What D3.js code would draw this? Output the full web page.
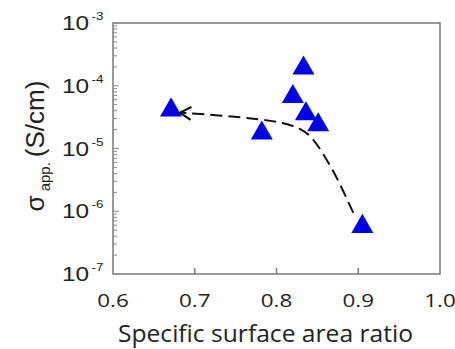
<!DOCTYPE html>
<html>
<head>
<meta charset="utf-8">
<script src="https://cdn.jsdelivr.net/npm/d3@7"></script>
<style>
  body { margin: 0; background: #fff; }
  svg { display: block; }
</style>
</head>
<body>
<div id="chart"></div>
<script>
// measured points
var ratio = [0.671, 0.782, 0.820, 0.833, 0.836, 0.851, 0.905];
var sigma = [4.1e-5, 1.75e-5, 6.7e-5, 1.9e-4, 3.56e-5, 2.38e-5, 5.7e-7];

// guide curve (dashed, arrow to the left)
var trendX = [0.894, 0.882, 0.870, 0.8555, 0.843, 0.829, 0.8085, 0.780, 0.739, 0.682];
var trendY = [9.4e-7, 2.06e-6, 4.29e-6, 8.93e-6, 1.55e-5, 2.1e-5, 2.59e-5, 2.92e-5, 3.31e-5, 3.73e-5];

var xTicks = [0.6, 0.7, 0.8, 0.9, 1.0];
var yExps = [-3, -4, -5, -6, -7];

var W = 455, H = 349;
var margin = {top: 23, right: 15, bottom: 75, left: 113},
    width = W - margin.left - margin.right,
    height = H - margin.top - margin.bottom;

var svg = d3.select("#chart").append("svg")
    .attr("width", W)
    .attr("height", H);

svg.append("defs").append("marker")
    .attr("id", "arrow")
    .attr("viewBox", "-14 -8 16 16")
    .attr("markerWidth", 16)
    .attr("markerHeight", 16)
    .attr("markerUnits", "userSpaceOnUse")
    .attr("refX", 0)
    .attr("refY", 0)
    .attr("orient", "auto")
    .append("path")
    .attr("d", "M-11,-6.5 L0,0 L-11,6.5")
    .attr("fill", "none")
    .attr("stroke", "#111")
    .attr("stroke-width", 2.2);

var g = svg.append("g")
    .attr("transform", "translate(" + margin.left + "," + margin.top + ")");

var x = d3.scaleLinear().domain([0.6, 1.0]).range([0, width]);
var y = d3.scaleLog().domain([1e-7, 1e-3]).range([height, 0]);

// frame
g.append("rect")
    .attr("width", width)
    .attr("height", height)
    .attr("fill", "none")
    .attr("stroke", "#7a7a7a")
    .attr("stroke-width", 1.5);

// y minor/major ticks (inside, on the left spine)
var yTickVals = [];
for (var e = -7; e < -3; e++) {
  for (var m = 1; m < 10; m++) yTickVals.push(m * Math.pow(10, e));
}
yTickVals.push(1e-3);
g.append("g").selectAll("line")
    .data(yTickVals)
    .enter().append("line")
    .attr("x1", 0)
    .attr("x2", function(d) { return Math.abs(Math.log10(d) - Math.round(Math.log10(d))) < 1e-9 ? 6 : 4; })
    .attr("y1", function(d) { return y(d); })
    .attr("y2", function(d) { return y(d); })
    .attr("stroke", "#8a8a8a")
    .attr("stroke-width", 1);

// x ticks (inside, bottom)
g.append("g").selectAll("line")
    .data(xTicks.slice(1, -1))
    .enter().append("line")
    .attr("x1", function(d) { return x(d); })
    .attr("x2", function(d) { return x(d); })
    .attr("y1", height)
    .attr("y2", height - 6)
    .attr("stroke", "#7a7a7a")
    .attr("stroke-width", 1.5);

// y tick labels: 10 with superscript exponent (text is a bit wide in the source)
var yl = g.append("g").selectAll("g")
    .data(yExps)
    .enter().append("g")
    .attr("transform", function(d) { return "translate(-51," + (y(Math.pow(10, d)) + 7) + ") scale(1.22,1)"; });
var ylt = yl.append("text")
    .attr("font-family", "Liberation Sans, Arial, sans-serif")
    .attr("font-size", 20)
    .attr("fill", "#222");
ylt.append("tspan").text("10");
ylt.append("tspan")
    .attr("dx", 2)
    .attr("dy", -10)
    .attr("font-size", 11)
    .text(function(d) { return "-" + Math.abs(d); });

// x tick labels
g.append("g").selectAll("text")
    .data(xTicks)
    .enter().append("text")
    .attr("transform", function(d) { return "translate(" + x(d) + "," + (height + 33) + ") scale(1.18,1)"; })
    .attr("text-anchor", "middle")
    .attr("font-family", "Open Sans, sans-serif")
    .attr("font-size", 19)
    .attr("fill", "#222")
    .text(function(d) { return d.toFixed(1); });

// axis titles
svg.append("text")
    .attr("x", 265.5)
    .attr("y", 342)
    .attr("text-anchor", "middle")
    .attr("font-family", "Open Sans, sans-serif")
    .attr("font-size", 23)
    .attr("textLength", 295)
    .attr("lengthAdjust", "spacingAndGlyphs")
    .attr("fill", "#222")
    .text("Specific surface area ratio");

var yt = svg.append("text")
    .attr("transform", "translate(44,146) rotate(-90)")
    .attr("text-anchor", "middle")
    .attr("font-family", "Liberation Sans, Arial, sans-serif")
    .attr("font-size", 26)
    .attr("fill", "#222");
yt.append("tspan").text("σ");
yt.append("tspan").attr("font-size", 15).attr("dx", 4).attr("dy", 6).text("app.");
yt.append("tspan").attr("dx", 5).attr("dy", -6).text("(S/cm)");

// dashed trend curve
var trend = trendX.map(function(d, i) { return [d, trendY[i]]; });
var line = d3.line()
    .x(function(d) { return x(d[0]); })
    .y(function(d) { return y(d[1]); })
    .curve(d3.curveBasis);
g.append("path")
    .datum(trend)
    .attr("d", line)
    .attr("fill", "none")
    .attr("stroke", "#111")
    .attr("stroke-width", 2)
    .attr("stroke-dasharray", "12,6")
    .attr("marker-end", "url(#arrow)");

// triangles
g.append("g").selectAll("path")
    .data(ratio)
    .enter().append("path")
    .attr("transform", function(d, i) { return "translate(" + x(d) + "," + y(sigma[i]) + ")"; })
    .attr("d", d3.symbol().type(d3.symbolTriangle).size(210))
    .attr("fill", "#0000e6");
</script>
</body>
</html>
